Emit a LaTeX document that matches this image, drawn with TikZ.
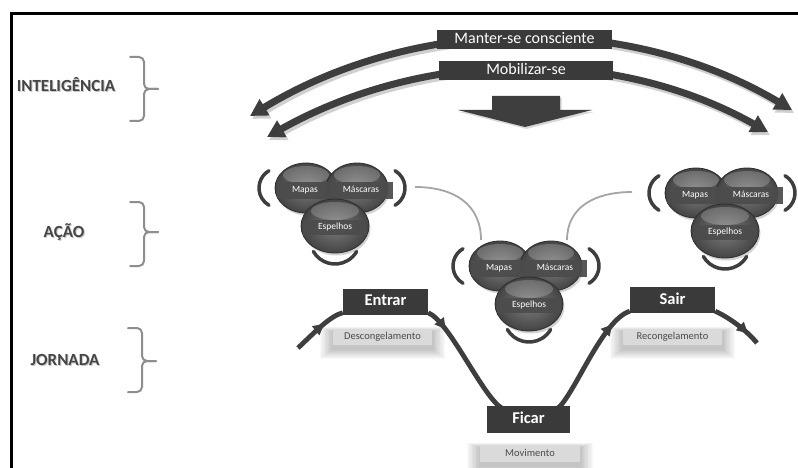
\documentclass[tikz,border=0pt]{standalone}
\usepackage{fontspec}
\setmainfont{Carlito}
\usetikzlibrary{arrows.meta,decorations.markings,shadows,calc}

\definecolor{arcgray}{HTML}{3E3E3E}
\definecolor{boxgray}{HTML}{3A3A3A}
\definecolor{labelgray}{HTML}{454545}
\definecolor{bracegray}{HTML}{8E8E8E}
\definecolor{linkgray}{HTML}{A5A5A5}
\definecolor{softbox}{HTML}{DADADA}
\definecolor{softtext}{HTML}{4A4A4A}
\definecolor{sphin}{HTML}{7C7C7C}
\definecolor{sphout}{HTML}{444444}
\definecolor{sphrim}{HTML}{2E2E2E}
\definecolor{bandgray}{HTML}{4C4C4C}

\tikzset{
  levelname/.style={font=\fontsize{17}{17}\selectfont\bfseries, text=labelgray, inner sep=0, anchor=base},
  levelshadow/.style={levelname, text=black!22},
  brace/.style={draw=bracegray, line width=2pt, rounded corners=5pt, line cap=round},
  bigarc/.style={draw=arcgray, line width=7pt, {Triangle[length=17pt,width=18pt]}-{Triangle[length=17pt,width=18pt]}},
  topbox/.style={fill=boxgray, text=white, minimum width=#1, minimum height=19pt, inner sep=0,
    text height=11pt, text depth=3pt, font=\fontsize{16}{16}\selectfont},
  stagebox/.style={fill=boxgray, text=white, minimum width=85pt, minimum height=26pt, inner sep=0,
    text height=11.5pt, text depth=3pt, font=\fontsize{16.5}{16.5}\selectfont\bfseries},
  stagenote/.style={fill=softbox, text=softtext, minimum width=99pt, minimum height=16pt, inner sep=0,
    text height=7.5pt, text depth=2pt, font=\fontsize{10.5}{10.5}\selectfont},
  journey/.style={draw=arcgray, line width=4.8pt},
  midarrow/.style={postaction={decorate, decoration={markings,
    mark=at position #1 with {\arrow[arcgray]{Triangle[length=11pt,width=11pt]}}}}},
  link/.style={draw=linkgray, line width=1.8pt},
  bracket/.style={draw=arcgray, line width=3.5pt, line cap=round},
  sphere/.style={inner color=sphin, outer color=sphout, draw=sphrim, line width=0.8pt,
    drop shadow={opacity=0.35, shadow xshift=1.5pt, shadow yshift=-2.5pt}},
  gloss/.style={fill=white, opacity=0.2},
  bandtext/.style={text=white, inner sep=0, text height=6.5pt, text depth=2pt, font=\fontsize{9.5}{9.5}\selectfont},
}

% one group of three spheres: #1 name, #2 x of centre, #3 y of centre
\newcommand\actioncluster[3]{%
  \shade[sphere] ({#2-25},{#3}) ellipse [x radius=31pt, y radius=25pt];
  \fill[gloss] ({#2-25},{#3-13}) ellipse [x radius=23pt, y radius=9pt];
  \shade[sphere] ({#2+26},{#3}) ellipse [x radius=31pt, y radius=25pt];
  \fill[gloss] ({#2+26},{#3-13}) ellipse [x radius=23pt, y radius=9pt];
  \fill[bandgray, opacity=0.93] ({#2-54},{#3-6}) rectangle ({#2+62},{#3+11});
  \node[bandtext] (#1-mapas) at ({#2-26},{#3+2.5}) {Mapas};
  \node[bandtext] (#1-mascaras) at ({#2+30},{#3+2.5}) {Máscaras};
  \shade[sphere] ({#2+4},{#3+38}) ellipse [x radius=34pt, y radius=27pt];
  \fill[gloss] ({#2+4},{#3+23}) ellipse [x radius=24pt, y radius=9pt];
  \fill[bandgray, opacity=0.93] ({#2-28},{#3+32}) rectangle ({#2+36},{#3+47});
  \node[bandtext] (#1-espelhos) at ({#2+4},{#3+39.5}) {Espelhos};
  \draw[bracket] ({#2-62},{#3-17.3}) arc [start angle=120, end angle=240, radius=20pt];
  \draw[bracket] ({#2+64},{#3+17.3}) arc [start angle=-60, end angle=60, radius=20pt];
  \draw[bracket] ({#2+4-21.65},{#3+63.5}) arc [start angle=210, end angle=330, radius=25pt];
}

% soft halo under a caption box
\newcommand\softhalo[1]{%
  \foreach \i in {1,...,10}
    \fill[black, opacity=0.025] ($(#1.north west)+(-1.3*\i,-0.5*\i+3)$) rectangle ($(#1.south east)+(1.3*\i,\i+4)$);
}

\begin{document}
\begin{tikzpicture}[x=1pt, y=-1pt]
\useasboundingbox (0,0) rectangle (798,468);
\fill[white] (0,0) rectangle (798,468);

% frame
\draw[line width=3pt] (11,468) -- (11,13.5) -- (798,13.5);

% level names with braces
\node[levelshadow] at (67,93) {INTELIGÊNCIA};
\node[levelname] (intel) at (66,91.5) {INTELIGÊNCIA};
\node[levelshadow] at (65,238.5) {AÇÃO};
\node[levelname] (acao) at (64,237) {AÇÃO};
\node[levelshadow] at (66,366.5) {JORNADA};
\node[levelname] (jornada) at (65,365) {JORNADA};

\draw[brace] (130,57) -- (144,57) -- (144,89) -- (158,89);
\draw[brace] (130,121) -- (144,121) -- (144,89) -- (158,89);
\draw[brace] (130,202) -- (144,202) -- (144,232) -- (158,232);
\draw[brace] (130,266) -- (144,266) -- (144,232) -- (158,232);
\draw[brace] (128,328) -- (142,328) -- (142,361) -- (156,361);
\draw[brace] (128,392) -- (142,392) -- (142,361) -- (156,361);

% top double arrows
\coordinate (outerL) at (250,116);
\coordinate (outerR) at (792,110);
\coordinate (innerL) at (267,137);
\coordinate (innerR) at (768,132);
\begin{scope}[transform canvas={xshift=2pt, yshift=-3pt}]
  \draw[bigarc, draw=black!30, opacity=0.6] (outerL) .. controls (415,16) and (627,12) .. (outerR);
  \draw[bigarc, draw=black!30, opacity=0.6] (innerL) .. controls (422,50) and (613,45) .. (innerR);
\end{scope}
\draw[bigarc] (outerL) .. controls (415,16) and (627,12) .. (outerR);
\draw[bigarc] (innerL) .. controls (422,50) and (613,45) .. (innerR);
\node[topbox=175pt] (manter) at (524.5,39.5) {Manter-se consciente};
\node[topbox=174pt] (mobil) at (526,70.5) {Mobilizar-se};

% block arrow pointing down
\fill[black!25, opacity=0.6, transform canvas={xshift=1.5pt, yshift=-2pt}]
  (492,96) -- (560,96) -- (560,110) -- (592,110) -- (525,127) -- (458,110) -- (492,110) -- cycle;
\fill[arcgray] (492,96) -- (560,96) -- (560,110) -- (592,110) -- (525,127) -- (458,110) -- (492,110) -- cycle;

% links between the sphere groups
\coordinate (leftout) at (415,187);
\coordinate (midinL) at (481,240);
\coordinate (midinR) at (567,240);
\coordinate (rightout) at (632,192);
\draw[link] (leftout) .. controls (455,187) and (481,205) .. (midinL);
\draw[link] (midinR) .. controls (567,207) and (595,192) .. (rightout);

% sphere groups
\actioncluster{left}{331}{188}
\actioncluster{mid}{525}{266}
\actioncluster{right}{721}{193}

% journey captions
\node[stagenote] (desc) at (382.5,337) {Descongelamento};
\node[stagenote] (recong) at (672.5,337) {Recongelamento};
\node[stagenote, minimum width=100pt, minimum height=17pt] (movim) at (530,453.5) {Movimento};
\softhalo{desc}
\softhalo{recong}
\softhalo{movim}
\node[stagenote] at (desc) {Descongelamento};
\node[stagenote] at (recong) {Recongelamento};
\node[stagenote, minimum width=100pt, minimum height=17pt] at (movim) {Movimento};

% journey stages
\node[stagebox] (entrar) at (385.5,301.5) {Entrar};
\node[stagebox] (sair) at (672.5,300) {Sair};
\node[stagebox, minimum width=83pt, minimum height=27pt] (ficar) at (528.5,419.5) {Ficar};

\coordinate (jstart) at (298,348);
\coordinate (jend) at (757,343);
\draw[journey, midarrow=0.62] (jstart) .. controls (315,332) and (330,316) .. ([yshift=2pt]entrar.south west);
\draw[journey, midarrow=0.2] ([yshift=2pt]entrar.south east) .. controls (450,322) and (483,398) .. ([xshift=16pt,yshift=-3pt]ficar.north west);
\draw[journey, midarrow=0.82] ([xshift=-13pt,yshift=-3pt]ficar.north east) .. controls (574,396) and (602,320) .. ([yshift=2pt]sair.south west);
\draw[journey, midarrow=0.75] ([yshift=2pt]sair.south east) .. controls (730,318) and (746,330) .. (jend);

% boxes redrawn over the line ends
\node[stagebox] at (entrar) {Entrar};
\node[stagebox] at (sair) {Sair};
\node[stagebox, minimum width=83pt, minimum height=27pt] at (ficar) {Ficar};
\end{tikzpicture}
\end{document}
